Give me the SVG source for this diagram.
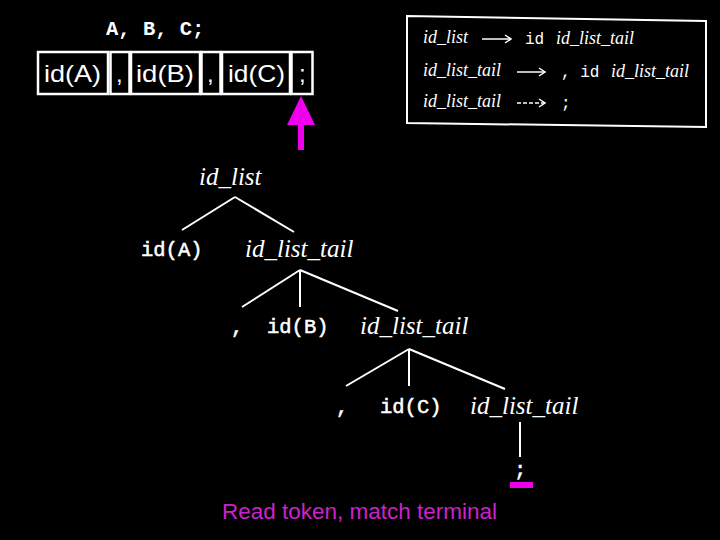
<svg xmlns="http://www.w3.org/2000/svg" width="720" height="540" viewBox="0 0 720 540">
<style>
.bg{fill:#000}
.cell{fill:none;stroke:#fff;stroke-width:2.5}
.tok{font-family:"Liberation Sans",Arial,sans-serif;font-size:24px;fill:#fff}
.mono{font-family:"Liberation Mono","Courier New",monospace;font-size:20.5px;fill:#fff;stroke:#fff;stroke-width:0.5}
.gmono{font-family:"Liberation Mono","Courier New",monospace;font-size:16px;fill:#fff}
.it{font-family:"Liberation Serif","Times New Roman",serif;font-style:italic;font-size:25px;fill:#fff}
.git{font-family:"Liberation Serif","Times New Roman",serif;font-style:italic;font-size:18px;fill:#fff}
.edge{stroke:#fff;stroke-width:2;fill:none}
.garr{stroke:#fff;stroke-width:1.5;fill:none}
.cap{font-family:"Liberation Sans",Arial,sans-serif;font-size:22px;fill:#cc22cc}
</style>
<rect class="bg" x="0" y="0" width="720" height="540"/>

<g id="input">
  <text x="106" y="35" font-family="Liberation Mono, Courier New, monospace" font-size="20.5" font-weight="bold" fill="#fff">A, B, C;</text>
</g>

<g id="tokens">
  <rect class="cell" x="38" y="52" width="70" height="42"/>
  <rect class="cell" x="110.5" y="52" width="19" height="42"/>
  <rect class="cell" x="131" y="52" width="69" height="42"/>
  <rect class="cell" x="201.5" y="52" width="19" height="42"/>
  <rect class="cell" x="222" y="52" width="68" height="42"/>
  <rect class="cell" x="291.5" y="52" width="21" height="42"/>
  <text class="tok" x="44" y="82" textLength="57" lengthAdjust="spacingAndGlyphs">id(A)</text>
  <text class="tok" x="116" y="82">,</text>
  <text class="tok" x="136" y="82" textLength="58" lengthAdjust="spacingAndGlyphs">id(B)</text>
  <text class="tok" x="207" y="82">,</text>
  <text class="tok" x="228" y="82" textLength="57" lengthAdjust="spacingAndGlyphs">id(C)</text>
  <text class="tok" x="299" y="82">;</text>
</g>

<g id="pointer">
  <rect x="298" y="122" width="6" height="28" fill="#ee00ee"/>
  <polygon points="301,96 315,125 287,125" fill="#ee00ee"/>
</g>

<g id="grammar">
  <polygon points="407,16 706,21 706,127 407,123" fill="none" stroke="#fff" stroke-width="2"/>
  <text class="git" x="423" y="43">id_list</text>
  <line class="garr" x1="482" y1="39" x2="511" y2="39"/>
  <polyline class="garr" points="505,35 511,39 505,43"/>
  <text class="gmono" x="525" y="44">id</text>
  <text class="git" x="556" y="44">id_list_tail</text>

  <text class="git" x="423" y="76">id_list_tail</text>
  <line class="garr" x1="517" y1="72" x2="545" y2="72"/>
  <polyline class="garr" points="539,68 545,72 539,76"/>
  <text class="gmono" x="561" y="77">, id</text>
  <text class="git" x="611" y="77">id_list_tail</text>

  <text class="git" x="423" y="107">id_list_tail</text>
  <line class="garr" x1="517" y1="103" x2="545" y2="103" stroke-dasharray="4,2"/>
  <polyline class="garr" points="539,99 545,103 539,107"/>
  <text class="gmono" x="561" y="108">;</text>
</g>

<g id="connectors">
  <line class="edge" x1="235" y1="197" x2="182" y2="230"/>
  <line class="edge" x1="235" y1="197" x2="294" y2="232"/>
  <line class="edge" x1="300" y1="270" x2="242" y2="307"/>
  <line class="edge" x1="300" y1="270" x2="300" y2="307"/>
  <line class="edge" x1="300" y1="270" x2="398" y2="311"/>
  <line class="edge" x1="409" y1="349" x2="346" y2="386"/>
  <line class="edge" x1="409" y1="349" x2="409" y2="386"/>
  <line class="edge" x1="409" y1="349" x2="505" y2="389"/>
  <line class="edge" x1="520" y1="422" x2="520" y2="457"/>
</g>

<g id="n-root"><text class="it" x="199" y="185">id_list</text></g>
<g id="n-idA"><text class="mono" x="141" y="256">id(A)</text></g>
<g id="n-tail1"><text class="it" x="245" y="257">id_list_tail</text></g>
<g id="n-comma1"><text class="mono" x="231" y="333">,</text></g>
<g id="n-idB"><text class="mono" x="267" y="333">id(B)</text></g>
<g id="n-tail2"><text class="it" x="360" y="334">id_list_tail</text></g>
<g id="n-comma2"><text class="mono" x="336" y="413">,</text></g>
<g id="n-idC"><text class="mono" x="380" y="413">id(C)</text></g>
<g id="n-tail3"><text class="it" x="470" y="414">id_list_tail</text></g>
<g id="n-semi"><text class="mono" x="514" y="476">;</text></g>

<g id="marker">
  <rect x="510" y="482" width="23" height="6" fill="#ee00ee"/>
</g>

<g id="caption"><text class="cap" x="222" y="519" textLength="275" lengthAdjust="spacingAndGlyphs">Read token, match terminal</text></g>
</svg>
